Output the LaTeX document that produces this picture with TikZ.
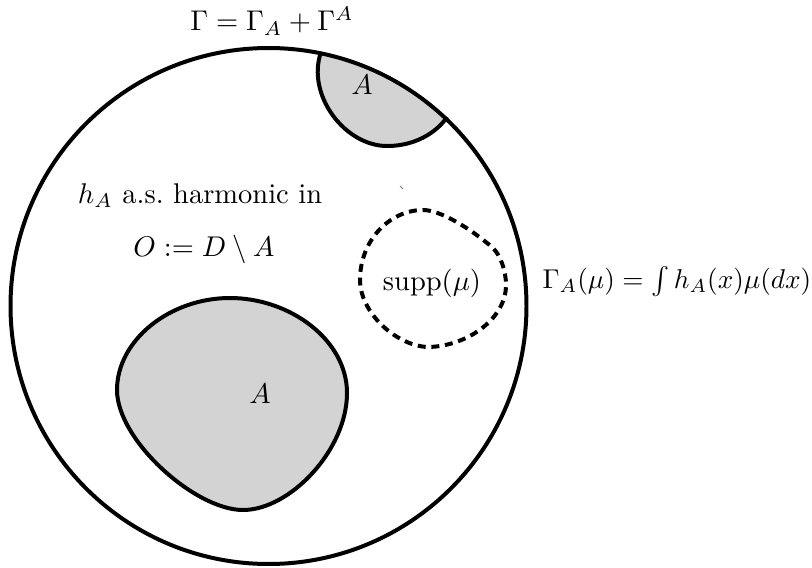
\documentclass[tikz,border=0pt]{standalone}
\usepackage{amsmath}
\definecolor{capgray}{RGB}{211,211,211}
\begin{document}
\begin{tikzpicture}[x=0.3509pt,y=-0.3509pt,
  bound/.style={line width=1.4pt},
  dashbound/.style={line width=1.4pt,dash pattern=on 2.8pt off 2pt},
  lbl/.style={inner sep=0pt, anchor=base}]
\useasboundingbox (0,0) rectangle (812,567);
\coordinate (c) at (268.5,306);
% top cap A
\begin{scope}
\clip (c) circle [radius=90.53pt];
\fill[capgray] (321,52) .. controls (306,95) and (345,146) .. (387,146)
  .. controls (420,146) and (440,128) .. (447,117) -- (490,80) -- (330,0) -- cycle;
\end{scope}
\draw[bound] (321,52) .. controls (306,95) and (345,146) .. (387,146)
  .. controls (420,146) and (440,128) .. (447,117);
% big disc boundary
\draw[bound] (c) circle [radius=90.53pt];
% bottom blob A
\draw[bound, fill=capgray] (230,298) .. controls (290,298) and (347,340) .. (347,393)
  .. controls (347,450) and (290,510) .. (243,510)
  .. controls (195,510) and (117,440) .. (117,390)
  .. controls (117,340) and (170,298) .. (230,298) -- cycle;
% support of mu
\draw[dashbound] (423,210) .. controls (440,210) and (470,228) .. (493,248)
  .. controls (500,255) and (506,270) .. (506,285)
  .. controls (506,320) and (465,347) .. (427,347)
  .. controls (395,345) and (360,312) .. (360,280)
  .. controls (360,240) and (390,210) .. (423,210) -- cycle;
\draw[line width=0.3pt, gray] (400,186) -- (403,189);
% labels
\node[lbl] (title) at (272,31) {$\Gamma=\Gamma_A+\Gamma^A$};
\node (Atop) at (362,85) {$A$};
\node[lbl] (harm) at (200,203) {$h_A$ a.s.\ harmonic in};
\node[lbl] (O) at (204,256) {$O:=D\setminus A$};
\node[lbl] (supp) at (432,290) {$\mathrm{supp}(\mu)$};
\node[lbl, anchor=base west, scale=0.955] (gam) at (542,288) {$\Gamma_A(\mu)=\int h_A(x)\mu(dx)$};
\node (Abot) at (260,394) {$A$};
\end{tikzpicture}
\end{document}
